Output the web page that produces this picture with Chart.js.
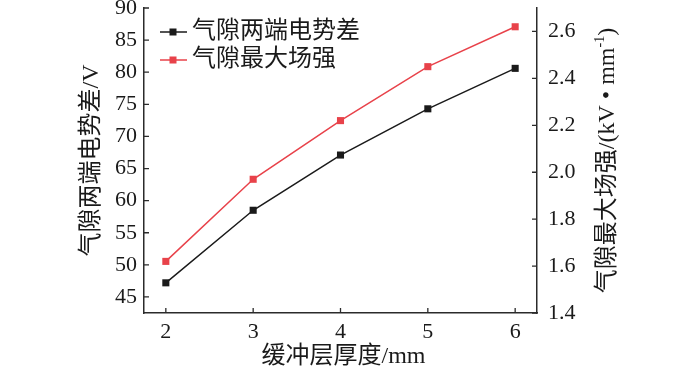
<!DOCTYPE html>
<html>
<head>
<meta charset="utf-8">
<script src="https://cdn.jsdelivr.net/npm/chart.js@4"></script>
<style>
  body { margin: 0; background: #fff; }
  #wrap { width: 700px; height: 371px; position: relative; }
</style>
</head>
<body>
<div id="wrap"><canvas id="chart"></canvas></div>
<script>
// data
const THICKNESS = [2, 3, 4, 5, 6];
const GAP_VOLTAGE = [47.2, 58.5, 67.1, 74.3, 80.6];
const GAP_FIELD = [1.62, 1.97, 2.22, 2.45, 2.62];
const SERIES_NAMES = ['气隙两端电势差', '气隙最大场强'];
const Y_TICKS = [45, 50, 55, 60, 65, 70, 75, 80, 85, 90];
const Y1_TICKS = [1.4, 1.6, 1.8, 2.0, 2.2, 2.4, 2.6];
const X_TITLE = '缓冲层厚度/mm';
const Y_TITLE = '气隙两端电势差/V';
const Y1_TITLE = ['气隙最大场强/(kV • mm', '-1', ')'];

const INK = '#1a1a1a';
const RED = '#e8424a';
const AXIS = '#2b2b2b';
const SERIF = '"Liberation Serif", "Times New Roman", serif';
const TITLE_FONT = '24px "Liberation Serif", "Noto Sans CJK SC", serif';

const tickFont = { family: SERIF, size: 22 };
const fixedTicks = (values) => (s) => { s.ticks = values.map((value) => ({ value })); };

const decorations = {
  id: 'decorations',
  afterDraw(chart) {
    const { ctx, chartArea: a, scales } = chart;
    ctx.save();

    // inward tick marks
    ctx.strokeStyle = AXIS;
    ctx.lineWidth = 1.3;
    ctx.beginPath();
    scales.x.ticks.forEach((t) => {
      const px = scales.x.getPixelForValue(t.value);
      ctx.moveTo(px, a.bottom);
      ctx.lineTo(px, a.bottom - 5);
    });
    scales.y.ticks.forEach((t) => {
      const py = scales.y.getPixelForValue(t.value);
      ctx.moveTo(a.left, py);
      ctx.lineTo(a.left + 5, py);
    });
    scales.y1.ticks.forEach((t) => {
      const py = scales.y1.getPixelForValue(t.value);
      ctx.moveTo(a.right, py);
      ctx.lineTo(a.right - 5, py);
    });
    ctx.stroke();

    // axis titles
    ctx.fillStyle = INK;
    ctx.font = TITLE_FONT;
    ctx.textBaseline = 'middle';
    ctx.textAlign = 'center';
    ctx.fillText(X_TITLE, (a.left + a.right) / 2 + 3, 357);

    const midY = (a.top + a.bottom) / 2;
    ctx.save();
    ctx.translate(92, midY);
    ctx.rotate(-Math.PI / 2);
    ctx.fillText(Y_TITLE, 0, 0);
    ctx.restore();

    // right title reads bottom-to-top, with superscript -1
    ctx.save();
    ctx.translate(608, midY);
    ctx.rotate(-Math.PI / 2);
    ctx.textAlign = 'left';
    const supFont = '14px ' + SERIF;
    ctx.font = TITLE_FONT;
    const w0 = ctx.measureText(Y1_TITLE[0]).width;
    const w2 = ctx.measureText(Y1_TITLE[2]).width;
    ctx.font = supFont;
    const w1 = ctx.measureText(Y1_TITLE[1]).width;
    let x = -(w0 + w1 + w2) / 2;
    ctx.font = TITLE_FONT;
    ctx.fillText(Y1_TITLE[0], x, 0);
    x += w0;
    ctx.font = supFont;
    ctx.fillText(Y1_TITLE[1], x, -8);
    x += w1;
    ctx.font = TITLE_FONT;
    ctx.fillText(Y1_TITLE[2], x, 0);
    ctx.restore();

    // legend inside the plot, top left
    ctx.font = TITLE_FONT;
    ctx.textAlign = 'left';
    chart.data.datasets.forEach((ds, i) => {
      const y = a.top + 24 + i * 28;
      ctx.strokeStyle = ds.borderColor;
      ctx.lineWidth = 1.5;
      ctx.beginPath();
      ctx.moveTo(a.left + 16, y);
      ctx.lineTo(a.left + 43, y);
      ctx.stroke();
      ctx.fillStyle = ds.borderColor;
      ctx.fillRect(a.left + 29 - 3.5, y - 3.5, 7, 7);
      ctx.fillStyle = INK;
      ctx.fillText(ds.label, a.left + 48, y);
    });

    ctx.restore();
  },
};

const series = (values) => THICKNESS.map((x, i) => ({ x, y: values[i] }));

new Chart(document.getElementById('chart'), {
  type: 'line',
  data: {
    datasets: [
      {
        label: SERIES_NAMES[0],
        data: series(GAP_VOLTAGE),
        yAxisID: 'y',
        borderColor: INK,
        backgroundColor: INK,
        borderWidth: 1.5,
        pointStyle: 'rect',
        pointRadius: 5,
        pointBorderWidth: 0,
      },
      {
        label: SERIES_NAMES[1],
        data: series(GAP_FIELD),
        yAxisID: 'y1',
        borderColor: RED,
        backgroundColor: RED,
        borderWidth: 1.5,
        pointStyle: 'rect',
        pointRadius: 5,
        pointBorderWidth: 0,
      },
    ],
  },
  options: {
    responsive: true,
    maintainAspectRatio: false,
    animation: false,
    layout: { padding: { top: 8, left: 0, right: 0, bottom: 0 } },
    plugins: {
      legend: { display: false },
      tooltip: { enabled: false },
    },
    scales: {
      x: {
        type: 'linear',
        min: 1.75,
        max: 6.25,
        afterBuildTicks: fixedTicks(THICKNESS),
        ticks: { autoSkip: false, padding: 6, color: INK, font: tickFont },
        grid: { drawOnChartArea: false, drawTicks: false },
        border: { color: AXIS, width: 1.5 },
        afterFit: (s) => { s.height = 58; s.paddingLeft = 0; s.paddingRight = 0; },
      },
      y: {
        position: 'left',
        min: 42.5,
        max: 90,
        afterBuildTicks: fixedTicks(Y_TICKS),
        ticks: { autoSkip: false, padding: 7, color: INK, font: tickFont },
        grid: { drawOnChartArea: false, drawTicks: false },
        border: { color: AXIS, width: 1.5 },
        afterFit: (s) => { s.width = 144; s.paddingTop = 0; s.paddingBottom = 0; },
      },
      y1: {
        position: 'right',
        min: 1.4,
        max: 2.7,
        afterBuildTicks: fixedTicks(Y1_TICKS),
        ticks: {
          autoSkip: false,
          padding: 11,
          color: INK,
          font: tickFont,
          callback: (v) => v.toFixed(1),
        },
        grid: { drawOnChartArea: false, drawTicks: false },
        border: { color: AXIS, width: 1.5 },
        afterFit: (s) => { s.width = 163; s.paddingTop = 0; s.paddingBottom = 0; },
      },
    },
  },
  plugins: [decorations],
});
</script>
</body>
</html>
